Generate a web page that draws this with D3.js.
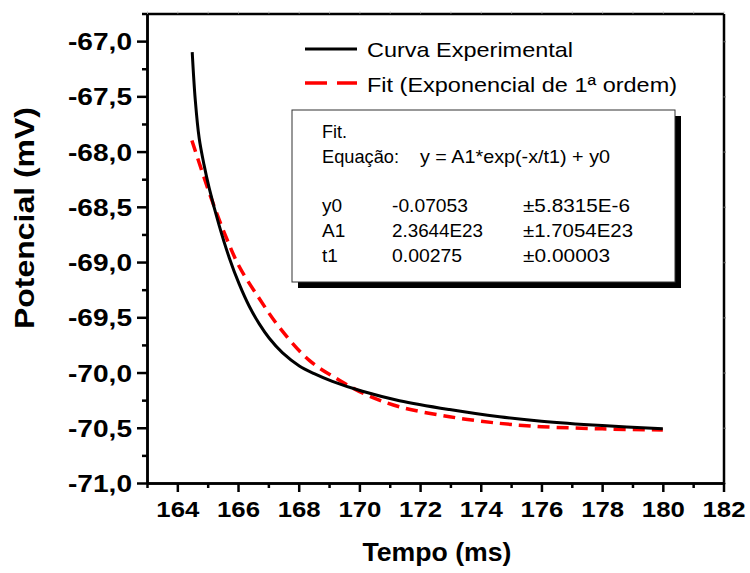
<!DOCTYPE html>
<html>
<head>
<meta charset="utf-8">
<script src="https://cdn.jsdelivr.net/npm/d3@7"></script>
<style>
  body { margin: 0; background: #fff; }
  text { font-family: "Liberation Sans", Arial, sans-serif; }
</style>
</head>
<body>
<svg id="chart"></svg>
<script>
// curva experimental (ms, mV)
const tempoExp = [164.49, 164.59, 164.72, 164.88, 165.05, 165.38, 165.71, 166.04, 166.37, 166.70, 167.03, 167.46, 168.02, 168.51, 169.11, 170.10, 171.32, 172.97, 174.62, 176, 178, 180];
const potExp   = [-67.10, -67.53, -67.88, -68.12, -68.33, -68.67, -68.96, -69.20, -69.40, -69.56, -69.69, -69.82, -69.94, -70.01, -70.08, -70.17, -70.255, -70.335, -70.40, -70.44, -70.48, -70.51];

// fit exponencial de 1a ordem
const tempoFit = [164.48, 165.10, 165.60, 166.04, 166.70, 167.36, 168.35, 169.34, 170.22, 171.32, 172.97, 174.62, 176, 178, 180];
const potFit   = [-67.90, -68.41, -68.77, -69.04, -69.33, -69.59, -69.89, -70.07, -70.20, -70.31, -70.40, -70.46, -70.49, -70.51, -70.52];

const xTickLabels = [164, 166, 168, 170, 172, 174, 176, 178, 180, 182];
const yTickLabels = [-67.0, -67.5, -68.0, -68.5, -69.0, -69.5, -70.0, -70.5, -71.0];

const legendNames = ["Curva Experimental", "Fit (Exponencial de 1\u00AA ordem)"];
const fitRows = [
  ["y0", "-0.07053", "\u00B15.8315E-6"],
  ["A1", "2.3644E23", "\u00B11.7054E23"],
  ["t1", "0.00275", "\u00B10.00003"]
];

const width = 750, height = 573;
const plot = { left: 147, right: 723.5, top: 13.5, bottom: 483 };

const svg = d3.select("#chart")
  .attr("width", width)
  .attr("height", height);

svg.append("rect").attr("width", width).attr("height", height).attr("fill", "#fff");

const x = d3.scaleLinear().domain([163, 182]).range([plot.left, plot.right]);
const y = d3.scaleLinear().domain([-71, -66.75]).range([plot.bottom, plot.top]);

const comma = d => d3.format(".1f")(d).replace(".", ",").replace("\u2212", "-");

// stretch text to the width seen in the picture
function fit(sel, len) {
  if (len) sel.attr("textLength", len).attr("lengthAdjust", "spacingAndGlyphs");
  return sel;
}

const xMinor = d3.range(163, 183, 1).filter(v => v % 2 !== 0);
const yMinor = d3.range(-71, -66.74, 0.25).filter(v => Math.abs(v * 2 - Math.round(v * 2)) > 0.01);

function styleAxis(g, w) {
  g.select(".domain").attr("stroke", "#000").attr("stroke-width", w);
  g.selectAll(".tick line").attr("stroke", "#000").attr("stroke-width", w);
}

// mirror frame (top, right)
const topAx = svg.append("g")
  .attr("transform", `translate(0,${plot.top})`)
  .call(d3.axisTop(x).tickValues(d3.range(163, 183, 1)).tickSize(2).tickSizeOuter(0).tickFormat(""));
topAx.select(".domain").attr("stroke", "#000").attr("stroke-width", 2.5);
topAx.selectAll(".tick line").attr("stroke", "#bbb").attr("stroke-width", 1);

const rightAx = svg.append("g")
  .attr("transform", `translate(${plot.right},0)`)
  .call(d3.axisRight(y).tickValues(yTickLabels).tickSize(2).tickSizeOuter(0).tickFormat(""));
rightAx.select(".domain").attr("stroke", "#000").attr("stroke-width", 2.5);
rightAx.selectAll(".tick line").attr("stroke", "#555").attr("stroke-width", 1.5);

// bottom axis
const xMinorAx = svg.append("g")
  .attr("transform", `translate(0,${plot.bottom})`)
  .call(d3.axisBottom(x).tickValues(xMinor).tickSize(5).tickSizeOuter(0).tickFormat(""));
styleAxis(xMinorAx, 2.5);

const xAx = svg.append("g")
  .attr("transform", `translate(0,${plot.bottom})`)
  .call(d3.axisBottom(x).tickValues(xTickLabels).tickSize(9).tickSizeOuter(0).tickPadding(8).tickFormat(d3.format("d")));
styleAxis(xAx, 2.5);
fit(xAx.selectAll(".tick text"), 43)
  .attr("fill", "#000")
  .style("font-size", "22px")
  .style("font-weight", "bold")
  .attr("dy", "0.75em");

// left axis
const yMinorAx = svg.append("g")
  .attr("transform", `translate(${plot.left},0)`)
  .call(d3.axisLeft(y).tickValues(yMinor).tickSize(5).tickSizeOuter(0).tickFormat(""));
styleAxis(yMinorAx, 2.5);

const yAx = svg.append("g")
  .attr("transform", `translate(${plot.left},0)`)
  .call(d3.axisLeft(y).tickValues(yTickLabels).tickSize(10).tickSizeOuter(0).tickPadding(5).tickFormat(comma));
styleAxis(yAx, 2.5);
fit(yAx.selectAll(".tick text"), 64)
  .attr("fill", "#000")
  .style("font-size", "24px")
  .style("font-weight", "bold")
  .attr("dy", "0.36em");

// axis titles
fit(svg.append("text"), 149)
  .attr("x", 437).attr("y", 561)
  .attr("text-anchor", "middle")
  .style("font-size", "26px").style("font-weight", "bold")
  .text("Tempo (ms)");

fit(svg.append("text"), 222)
  .attr("transform", "translate(34,218) rotate(-90)")
  .attr("text-anchor", "middle")
  .style("font-size", "28px").style("font-weight", "bold")
  .text("Potencial (mV)");

// curves
const line = d3.line()
  .x(d => x(d[0]))
  .y(d => y(d[1]))
  .curve(d3.curveCatmullRom.alpha(0.5));

const expData = tempoExp.map((t, i) => [t, potExp[i]]);
const fitData = tempoFit.map((t, i) => [t, potFit[i]]);

svg.append("path")
  .datum(fitData)
  .attr("d", line)
  .attr("fill", "none")
  .attr("stroke", "#ff0000")
  .attr("stroke-width", 3.5)
  .attr("stroke-dasharray", "12,7");

svg.append("path")
  .datum(expData)
  .attr("d", line)
  .attr("fill", "none")
  .attr("stroke", "#000")
  .attr("stroke-width", 3);

// legend
const legend = svg.append("g");
legend.append("line")
  .attr("x1", 305).attr("x2", 357).attr("y1", 49).attr("y2", 49)
  .attr("stroke", "#000").attr("stroke-width", 3);
legend.append("line")
  .attr("x1", 305).attr("x2", 357).attr("y1", 83).attr("y2", 83)
  .attr("stroke", "#ff0000").attr("stroke-width", 3.5).attr("stroke-dasharray", "22,10");
const legendLen = [206, 310];
legend.selectAll("text.lg")
  .data(legendNames)
  .join("text")
  .attr("class", "lg")
  .attr("x", 367)
  .attr("y", (d, i) => 57 + i * 35)
  .attr("textLength", (d, i) => legendLen[i])
  .attr("lengthAdjust", "spacingAndGlyphs")
  .style("font-size", "21px")
  .attr("fill", "#000")
  .text(d => d);

// fit box
const box = { x: 292, y: 110, w: 383, h: 172 };
svg.append("rect")
  .attr("x", box.x + 6).attr("y", box.y + 6)
  .attr("width", box.w).attr("height", box.h)
  .attr("fill", "#000");
svg.append("rect")
  .attr("x", box.x).attr("y", box.y)
  .attr("width", box.w).attr("height", box.h)
  .attr("fill", "#fff").attr("stroke", "#333").attr("stroke-width", 1);

const boxText = svg.append("g").style("font-size", "19px").attr("fill", "#000");
fit(boxText.append("text"), 25).attr("x", 322).attr("y", 138).text("Fit.");
fit(boxText.append("text"), 77).attr("x", 322).attr("y", 163).text("Equa\u00E7\u00E3o:");
fit(boxText.append("text"), 190).attr("x", 420).attr("y", 163).text("y = A1*exp(-x/t1) + y0");

const cols = [322, 392, 523];
const cellLen = [
  [null, 76, 107],
  [null, 91, 110],
  [null, 70, 87]
];
fitRows.forEach((row, i) => {
  row.forEach((cell, j) => {
    fit(boxText.append("text"), cellLen[i][j])
      .attr("x", cols[j])
      .attr("y", 212 + i * 25)
      .text(cell);
  });
});
</script>
</body>
</html>
